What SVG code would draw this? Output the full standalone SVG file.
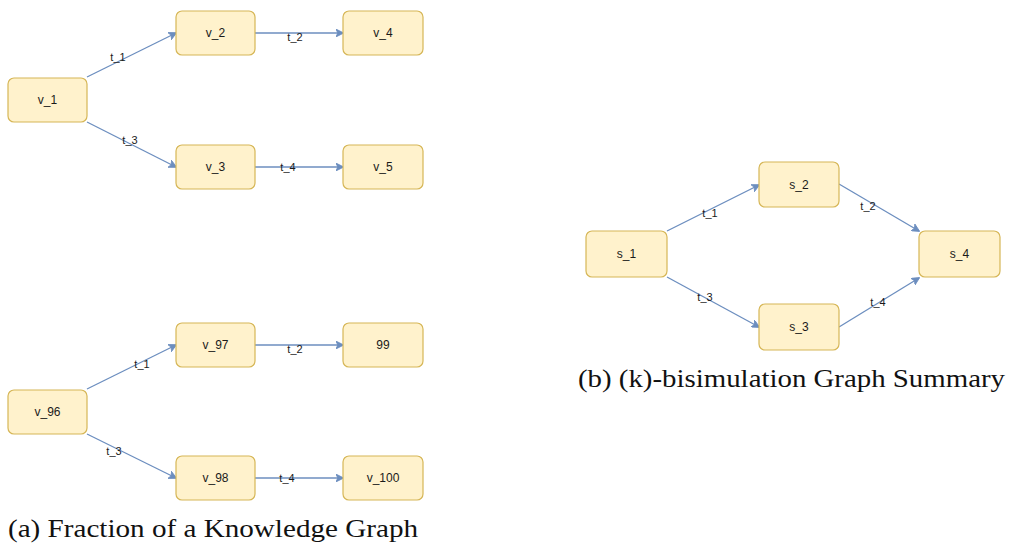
<svg xmlns="http://www.w3.org/2000/svg" width="1010" height="546" viewBox="0 0 1010 546">
  <style>
    .node rect { fill: #fff2cc; stroke: #d6b656; stroke-width: 1.2; }
    .node text { font-family: "Liberation Sans", Arial, sans-serif; font-size: 12px; fill: #1a1a1a; text-anchor: middle; dominant-baseline: central; }
    .edges path { fill: none; stroke: #6c8ebf; stroke-width: 1.3; marker-end: url(#arrow); }
    .lbl { font-family: "Liberation Sans", Arial, sans-serif; font-size: 11px; fill: #1a1a1a; text-anchor: middle; dominant-baseline: central; }
    .caption { font-family: "Liberation Serif", "Times New Roman", serif; font-size: 25px; fill: #111; }
  </style>
  <defs>
    <marker id="arrow" viewBox="0 0 10 10" refX="9" refY="5" markerWidth="8" markerHeight="8" markerUnits="userSpaceOnUse" orient="auto">
      <path d="M0,0 L10,5 L0,10 L2.5,5 Z" fill="#6c8ebf" stroke="#6c8ebf" stroke-width="1"/>
    </marker>
  </defs>

  <rect width="1010" height="546" fill="#ffffff"/>

  <!-- connectors -->
  <g class="edges">
    <!-- upper knowledge graph fragment -->
    <path d="M87,77 L176,33"/>
    <path d="M255,33 L343,33"/>
    <path d="M87,122 L176,167"/>
    <path d="M255,167 L343,167"/>
    <!-- lower knowledge graph fragment -->
    <path d="M87,389 L176,345"/>
    <path d="M255,345 L343,345"/>
    <path d="M87,434 L176,478"/>
    <path d="M255,478 L343,478"/>
    <!-- summary graph -->
    <path d="M667,231 L759,185"/>
    <path d="M839,184 L919,231"/>
    <path d="M667,277 L759,327"/>
    <path d="M839,327 L919,278"/>
  </g>

  <!-- edge labels -->
  <g class="labels">
    <text class="lbl" x="118" y="57">t_1</text>
    <text class="lbl" x="295" y="37">t_2</text>
    <text class="lbl" x="130" y="140">t_3</text>
    <text class="lbl" x="288" y="167">t_4</text>

    <text class="lbl" x="142" y="364">t_1</text>
    <text class="lbl" x="295" y="349">t_2</text>
    <text class="lbl" x="114" y="451">t_3</text>
    <text class="lbl" x="287" y="478">t_4</text>

    <text class="lbl" x="710" y="213">t_1</text>
    <text class="lbl" x="868" y="206">t_2</text>
    <text class="lbl" x="705" y="297">t_3</text>
    <text class="lbl" x="878" y="302">t_4</text>
  </g>

  <!-- nodes: upper fragment -->
  <g id="v_1" class="node"><rect x="8" y="78" width="79" height="44" rx="6"/><text x="47.5" y="100">v_1</text></g>
  <g id="v_2" class="node"><rect x="176" y="11" width="79" height="44" rx="6"/><text x="215.5" y="33">v_2</text></g>
  <g id="v_4" class="node"><rect x="343" y="11" width="80" height="44" rx="6"/><text x="383" y="33">v_4</text></g>
  <g id="v_3" class="node"><rect x="176" y="145" width="79" height="44" rx="6"/><text x="215.5" y="167">v_3</text></g>
  <g id="v_5" class="node"><rect x="343" y="145" width="80" height="44" rx="6"/><text x="383" y="167">v_5</text></g>

  <!-- nodes: lower fragment -->
  <g id="v_96" class="node"><rect x="8" y="390" width="79" height="44" rx="6"/><text x="47.5" y="412">v_96</text></g>
  <g id="v_97" class="node"><rect x="176" y="323" width="79" height="44" rx="6"/><text x="215.5" y="345">v_97</text></g>
  <g id="v_99" class="node"><rect x="343" y="323" width="80" height="44" rx="6"/><text x="383" y="345">99</text></g>
  <g id="v_98" class="node"><rect x="176" y="456" width="79" height="44" rx="6"/><text x="215.5" y="478">v_98</text></g>
  <g id="v_100" class="node"><rect x="343" y="456" width="80" height="44" rx="6"/><text x="383" y="478">v_100</text></g>

  <!-- nodes: summary graph -->
  <g id="s_1" class="node"><rect x="586" y="231" width="81" height="46" rx="6"/><text x="626.5" y="254">s_1</text></g>
  <g id="s_2" class="node"><rect x="759" y="162" width="80" height="45" rx="6"/><text x="799" y="184.5">s_2</text></g>
  <g id="s_3" class="node"><rect x="759" y="304" width="80" height="46" rx="6"/><text x="799" y="327">s_3</text></g>
  <g id="s_4" class="node"><rect x="919" y="231" width="81" height="46" rx="6"/><text x="959.5" y="254">s_4</text></g>

  <!-- captions -->
  <text class="caption" x="8" y="537" textLength="410" lengthAdjust="spacingAndGlyphs">(a) Fraction of a Knowledge Graph</text>
  <text class="caption" x="578" y="387" textLength="427" lengthAdjust="spacingAndGlyphs">(b) (k)-bisimulation Graph Summary</text>
</svg>
